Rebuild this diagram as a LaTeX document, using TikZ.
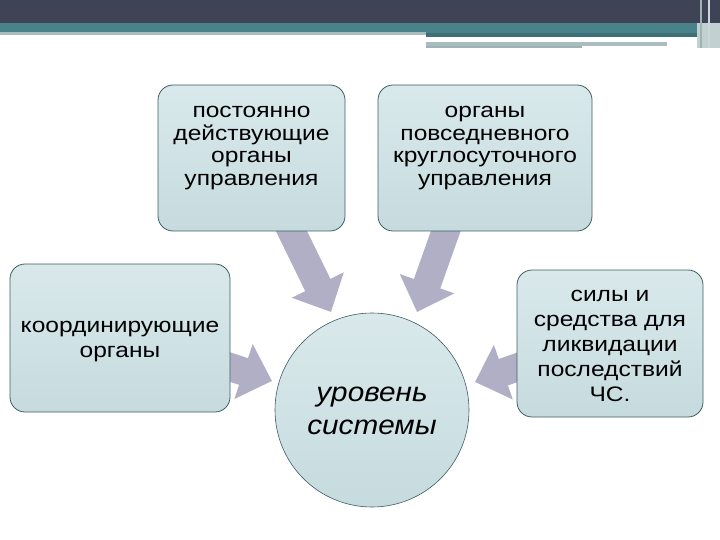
\documentclass[tikz,border=0pt]{standalone}
\usepackage{fontspec}
\setmainfont{Liberation Sans}
\newfontfamily\boxfont[FakeStretch=1.17]{Liberation Sans}
\newfontfamily\circfont[FakeStretch=1.1]{Liberation Sans}
\usetikzlibrary{arrows.meta,shapes.geometric}
\definecolor{bardark}{HTML}{3E4456}
\definecolor{barteal}{HTML}{4A8289}
\definecolor{barteal2}{HTML}{3F7078}
\definecolor{barline}{HTML}{A9BCBF}
\definecolor{barline2}{HTML}{9FB3B3}
\definecolor{boxtop}{HTML}{D9E9EB}
\definecolor{boxbot}{HTML}{C6DBDE}
\definecolor{boxedge}{HTML}{3F5E63}
\definecolor{arrowc}{HTML}{B1AFC6}
\tikzset{
  box/.style={draw=boxedge, line width=0.8pt, rounded corners=15pt,
    top color=boxtop, bottom color=boxbot, inner sep=0pt},
  txt/.style={align=center, font=\boxfont\fontsize{21}{22.7}\selectfont, inner sep=0pt},
  txtwide/.style={align=center, font=\boxfont\fontsize{21}{25}\selectfont, inner sep=0pt},
  circtxt/.style={align=center, font=\circfont\itshape\fontsize{27}{33}\selectfont, inner sep=0pt},
  blockarrow/.style={draw=arrowc, line width=28pt, line cap=butt,
    -{Triangle[length=30pt, width=56pt]}}
}
\begin{document}
\begin{tikzpicture}[x=1pt, y=-1pt]
\useasboundingbox (0,0) rectangle (720,540);
\fill[white] (0,0) rectangle (720,540);
% top bar
\fill[bardark] (0,0) rectangle (720,23);
\fill[barteal] (0,23) rectangle (697,33);
\fill[barline] (0,32) rectangle (426,35);
\fill[barteal2] (426,33) rectangle (697,37);
\fill[barline] (426,42) rectangle (667,46);
\fill[barline2] (426,46) rectangle (582,48);
\fill[barline!70] (697,23) rectangle (720,48);
\fill[barline2] (700,0) rectangle (702,48);
\fill[barline!60] (708,0) rectangle (710,48);

% arrow coordinates
\coordinate (a1s) at (287,222);
\coordinate (a1e) at (331,312);
\coordinate (a2s) at (449,222);
\coordinate (a2e) at (417,312);
\coordinate (a3s) at (218,363);
\coordinate (a3e) at (272,381);
\coordinate (a4s) at (527,364);
\coordinate (a4e) at (475,382);
\draw[blockarrow] (a1s) -- (a1e);
\draw[blockarrow] (a2s) -- (a2e);
\draw[blockarrow] (a3s) -- (a3e);
\draw[blockarrow] (a4s) -- (a4e);

% boxes
\node[box, minimum width=187pt, minimum height=146pt] (b1) at (251.5,158) {};
\node[txt] (b1t) at (251.5,148) {постоянно\\действующие\\органы\\управления};
\node[box, minimum width=214pt, minimum height=146pt] (b2) at (485,158) {};
\node[txt] (b2t) at (485,148) {органы\\повседневного\\круглосуточного\\управления};
\node[box, minimum width=220pt, minimum height=148pt] (b3) at (120,338) {};
\node[txtwide] (b3t) at (120,342) {координирующие\\органы};
\node[box, minimum width=186pt, minimum height=147pt] (b4) at (610,343.5) {};
\node[txtwide] (b4t) at (610,346) {силы и\\средства для\\ликвидации\\последствий\\ЧС.};
% circle
\node[circle, draw=boxedge, line width=0.6pt, top color=boxtop, bottom color=boxbot,
  minimum size=194pt, inner sep=0pt] (c) at (372,410) {};
\node[circtxt] (ct) at (372,411) {уровень\\системы};
\end{tikzpicture}
\end{document}
